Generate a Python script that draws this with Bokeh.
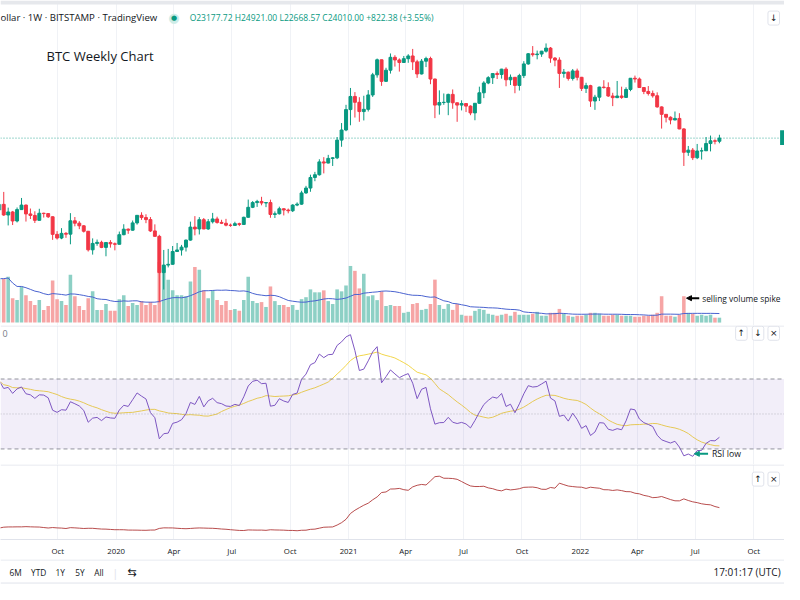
import pandas as pd
from bokeh.plotting import figure
from bokeh.layouts import column
from bokeh.models import (Range1d, LinearScale, FixedTicker, Label, Arrow, NormalHead,
                          ColumnDataSource, Span, BoxAnnotation)
from bokeh.embed import file_html
from bokeh.resources import INLINE

# ---------------- data (weekly BTC/USD, Bitstamp) ----------------
first_week = "2019-07-01"

opens = [10760, 11470, 10190, 10540, 9530, 10820, 11380, 10310, 10140, 9600, 10390, 10350, 9990, 8210, 7880, 8300, 8230, 9550, 9300, 9030, 8500, 6910, 7420, 7510, 7100, 7500, 7390,
         7350, 8180, 8700, 8600, 9330, 10150, 9900, 9680, 8530, 8030, 5360, 5830, 5880, 6780, 6900, 7120, 7700, 8900, 8720, 9670, 8720, 9450, 9750, 9380, 9290, 9100, 9070, 9250, 9170, 9930, 11100, 11700, 11850, 11650, 11700, 10250, 10330, 10920, 10770, 10680, 11380, 11500, 13030, 13760, 15480, 15960, 18420, 18180, 19150, 19270, 23480, 26280,
         33000, 38200, 35800, 32280, 33100, 38850, 48600, 57500, 45200, 51200, 59100, 57400, 55800, 58200, 60000, 56200, 49100, 56600, 58300, 46400, 34700, 35700, 35800, 39100, 35600, 34700, 35300, 34300, 31800, 35400, 39800, 44400, 47100, 49300, 48800, 51800, 46000, 47300, 43200, 48200, 54900, 61500, 60900, 61300, 63300, 65500, 58600, 57300, 49400, 50100, 46700, 50800,
         47300, 41800, 43100, 36300, 37900, 42400, 42200, 38400, 37700, 38400, 37800, 41300, 46800, 46400, 42200, 40400, 39500, 38500, 34000, 31300, 30300, 29400, 29900, 26600, 20500, 21000, 19300, 20800, 20850, 22600, 23300, 23177.72]

highs = [12050, 13180, 11060, 10660, 11080, 12320, 11450, 10950, 10620, 10920, 10450, 10380, 10030, 8510, 8800, 8420, 10400, 9960, 9510, 9100, 8510, 7850, 7750, 7650, 7510, 7700, 7500,
         8470, 9190, 8770, 9580, 10160, 10500, 10270, 9960, 9180, 8170, 6900, 6980, 7210, 7460, 7300, 7750, 9460, 10060, 9950, 9850, 9740, 10430, 10000, 9660, 9760, 9260, 9450, 9350, 10000, 12100, 11900, 12070, 12480, 11720, 12090, 10600, 11180, 10980, 10950, 11490, 11730, 13350, 14100, 15970, 16480, 18970, 19420, 19920, 19410, 24300, 28400, 34800,
         42000, 40100, 37880, 38500, 41000, 49700, 58300, 57600, 52600, 61700, 60500, 58400, 60000, 61200, 64900, 57500, 58000, 59500, 59500, 46600, 40900, 39500, 39400, 41300, 35700, 36600, 35400, 34600, 35500, 42600, 45300, 47900, 49400, 50500, 52000, 52900, 48800, 47400, 49200, 56600, 62000, 67000, 63700, 63500, 69000, 66300, 59300, 59100, 51900, 50400, 51900, 52100,
         47500, 44500, 43500, 38900, 42600, 45800, 44700, 39800, 45400, 42600, 42300, 46900, 48200, 47200, 42400, 42900, 40800, 40000, 34200, 31400, 30600, 32300, 31700, 26800, 22000, 21500, 22500, 21600, 24300, 24700, 23700, 24921.00]

lows = [9620, 10080, 9070, 9110, 9380, 10780, 9470, 9740, 9320, 9590, 9900, 9850, 7720, 7750, 7780, 7900, 7350, 8980, 8700, 8380, 6780, 6550, 7230, 7040, 6430, 7080, 6870,
        7340, 8130, 8260, 8560, 9150, 9650, 9300, 8430, 8000, 3850, 4440, 5680, 5860, 6760, 6480, 6780, 7650, 8120, 8200, 8700, 8630, 9270, 9250, 9210, 8980, 8930, 9050, 9000, 9120, 9900, 11000, 11150, 11350, 11120, 9880, 9850, 10240, 10140, 10380, 10530, 11240, 11420, 12900, 13200, 14850, 15800, 16200, 18110, 17600, 19000, 21800, 25930,
        27700, 30200, 28800, 29240, 32300, 38000, 47100, 43000, 45000, 49300, 53300, 50400, 55500, 55600, 51300, 47000, 48800, 53000, 43800, 30000, 31200, 34800, 31000, 33300, 28800, 32700, 32100, 31000, 29300, 35200, 37500, 43800, 43900, 46400, 46600, 42800, 43400, 39600, 40800, 46900, 54400, 59600, 57800, 59400, 62300, 55600, 53500, 42000, 47100, 45600, 45600, 45700,
        40600, 39700, 34000, 32900, 36300, 41700, 38000, 34300, 37500, 37200, 37600, 40500, 44600, 42100, 39200, 38600, 37700, 33700, 26700, 28600, 28000, 29300, 26500, 17600, 19700, 18800, 19000, 18900, 20800, 20700, 22400, 22668.57]

closes = [11470, 10190, 10540, 9530, 10820, 11380, 10310, 10140, 9600, 10390, 10350, 9990, 8210, 7880, 8300, 8230, 9550, 9300, 9030, 8500, 6910, 7420, 7510, 7100, 7500, 7390, 7350,
          8180, 8700, 8600, 9330, 10150, 9900, 9680, 8530, 8030, 5360, 5830, 5880, 6780, 6900, 7120, 7700, 8900, 8720, 9670, 8720, 9450, 9750, 9380, 9290, 9100, 9070, 9250, 9170, 9930, 11100, 11700, 11850, 11650, 11700, 10250, 10330, 10920, 10770, 10680, 11380, 11500, 13030, 13760, 15480, 15960, 18420, 18180, 19150, 19270, 23480, 26280, 33000,
          38200, 35800, 32280, 33100, 38850, 48600, 57500, 45200, 51200, 59100, 57400, 55800, 58200, 60000, 56200, 49100, 56600, 58300, 46400, 34700, 35700, 35800, 39100, 35600, 34700, 35300, 34300, 31800, 35400, 39800, 44400, 47100, 49300, 48800, 51800, 46000, 47300, 43200, 48200, 54900, 61500, 60900, 61300, 63300, 65500, 58600, 57300, 49400, 50100, 46700, 50800, 47300,
          41800, 43100, 36300, 37900, 42400, 42200, 38400, 37700, 38400, 37800, 41300, 46800, 46400, 42200, 40400, 39500, 38500, 34000, 31300, 30300, 29400, 29900, 26600, 20500, 21000, 19300, 20800, 20850, 22600, 23300, 23187.62, 24010.00]

# weekly volume, thousands of BTC
volumes_k = [135, 135, 141, 75, 69, 111, 84, 66, 54, 69, 39, 51, 129, 72, 66, 54, 147, 81, 51, 39, 75, 96, 39, 39, 57, 36, 36,
             72, 84, 51, 60, 54, 66, 54, 63, 54, 186, 174, 132, 99, 84, 84, 81, 126, 171, 162, 99, 75, 99, 69, 54, 66, 39, 42, 36, 69, 141, 66, 60, 63, 48, 111, 66, 54, 54, 48, 54, 39, 72, 78, 102, 93, 93, 99, 66, 57, 102, 96, 114,
             174, 159, 105, 150, 81, 84, 69, 96, 51, 54, 51, 51, 30, 33, 57, 60, 39, 42, 57, 132, 54, 42, 57, 39, 57, 24, 21, 21, 36, 42, 39, 27, 24, 21, 24, 27, 21, 33, 24, 24, 24, 27, 33, 21, 21, 30, 30, 42, 27, 21, 18, 21,
             21, 24, 30, 30, 27, 21, 21, 24, 24, 21, 21, 21, 18, 18, 21, 21, 24, 30, 81, 21, 21, 18, 24, 81, 30, 27, 21, 24, 21, 24, 15, 15]

# state of the indicators just before the first visible week (history left of the chart)
rsi_prior_avg_gain, rsi_prior_avg_loss = 1050.0, 500.0
atr_prior = 1300.0
rsi_len, ma_len, atr_len, vol_ma_len = 14, 14, 14, 20

tick_dates = ["2019-10-01", "2020-01-01", "2020-04-01", "2020-07-01", "2020-10-01", "2021-01-01",
              "2021-04-01", "2021-07-01", "2021-10-01", "2022-01-01", "2022-04-01", "2022-07-01", "2022-10-01"]
tick_labels = ["Oct", "2020", "Apr", "Jul", "Oct", "2021", "Apr", "Jul", "Oct", "2022", "Apr", "Jul", "Oct"]

last_price = 24010.00
header_left = "ollar · 1W · BITSTAMP · TradingView"
header_ohlc = "O23177.72 H24921.00 L22668.57 C24010.00 +822.38 (+3.55%)"

# ---------------- derived series ----------------
base = pd.Timestamp("2020-01-01")
dates = pd.date_range(first_week, periods=len(closes), freq="7D")
xd = [int((d - base).days) for d in dates]
tick_x = [int((pd.Timestamp(t) - base).days) for t in tick_dates]

UP, DN = "#089981", "#f23645"
UPV, DNV = "#8dd0c5", "#f6a5a5"
GRID = "#f0f2f6"
SEP = "#e0e3eb"
FONT = "Open Sans"
TXT = "#131722"

# Wilder RSI and ATR, continuing from the prior state
rsi, atr = [], []
ag, al, a = rsi_prior_avg_gain, rsi_prior_avg_loss, atr_prior
prev_c = opens[0]
for o, h, l, c in zip(opens, highs, lows, closes):
    d = c - prev_c
    ag = (ag * (rsi_len - 1) + max(d, 0)) / rsi_len
    al = (al * (rsi_len - 1) + max(-d, 0)) / rsi_len
    rsi.append(100 - 100 / (1 + ag / al))
    tr = max(h - l, abs(h - prev_c), abs(l - prev_c))
    a = (a * (atr_len - 1) + tr) / atr_len
    atr.append(a)
    prev_c = c
rsi_ma = pd.Series(rsi).rolling(ma_len, min_periods=1).mean()
vol_ma = pd.Series(volumes_k, dtype=float).rolling(vol_ma_len, min_periods=1).mean()

src = ColumnDataSource(dict(
    x=xd, o=opens, h=highs, l=lows, c=closes,
    top=[max(a, b) for a, b in zip(opens, closes)],
    bot=[min(a, b) for a, b in zip(opens, closes)],
    color=[UP if c >= o else DN for o, c in zip(opens, closes)],
    vcolor=[UPV if c >= o else DNV for o, c in zip(opens, closes)],
    vol=volumes_k, vol_ma=list(vol_ma), rsi=rsi, rsi_ma=list(rsi_ma), atr=atr,
))

W = 784
xr = Range1d(-182.1, 1052.5)


def make_fig(h, yrange, ref_top, ref_bot, ytype="linear", xaxis=False, mbb=0):
    p = figure(width=W, height=h, x_range=xr, y_range=yrange, y_axis_type=ytype,
               output_backend="svg", toolbar_location=None,
               x_axis_location="below" if xaxis else None, y_axis_location=None,
               min_border=0, min_border_bottom=mbb)
    p.extra_x_ranges = {"px": Range1d(0, 800)}
    p.extra_x_scales = {"px": LinearScale()}
    p.extra_y_ranges = {"px": Range1d(ref_bot, ref_top)}
    p.extra_y_scales = {"px": LinearScale()}
    p.outline_line_color = None
    p.background_fill_color = "white"
    p.border_fill_color = "white"
    p.xgrid.ticker = FixedTicker(ticks=tick_x)
    p.xgrid.grid_line_color = GRID
    p.ygrid.grid_line_color = None
    return p


def lab(p, x, y, text, size="10px", color=TXT, align="left", font=FONT, **kw):
    p.add_layout(Label(x=x, y=y, x_range_name="px", y_range_name="px", text=text,
                       text_font=font, text_font_size=size, text_color=color,
                       text_align=align, text_baseline="middle", **kw))


def button(p, x, y, glyph):
    lab(p, x, y, glyph, size="9px", color=TXT, align="center", font="DejaVu Sans",
        background_fill_color="white", border_line_color=SEP, padding=2, border_radius=2)


# ---------------- price pane ----------------
pp = make_fig(325, Range1d(2972, 111360), 0, 333, ytype="log")
pp.extra_y_ranges["vol"] = Range1d(-9, 990)
pp.extra_y_scales["vol"] = LinearScale()
pp.vbar(x="x", width=5.6, top="vol", bottom=0, y_range_name="vol",
        fill_color="vcolor", line_color=None, source=src)
pp.line(x="x", y="vol_ma", y_range_name="vol", line_color="#4a63d0", line_width=1, source=src)
pp.add_layout(Span(location=last_price, dimension="width", line_color=UP,
                   line_dash="1 2", line_alpha=0.8, line_width=1))
pp.segment(x0="x", y0="h", x1="x", y1="l", line_color="color", line_width=1, source=src)
pp.vbar(x="x", width=4.6, top="top", bottom="bot", fill_color="color", line_color="color", source=src)

pp.add_layout(BoxAnnotation(top=0, bottom=4, y_range_name="px", fill_color="#e6e8ec",
                            fill_alpha=1, line_color=None))
pp.add_layout(BoxAnnotation(left=795.5, right=800, top=133, bottom=148, x_range_name="px",
                            y_range_name="px", fill_color=UP, fill_alpha=1, line_color=None))
lab(pp, 0, 17, header_left, size="9.6px")
lab(pp, 177, 17.5, "●", size="13px", color="#cdece7", align="center", font="DejaVu Sans")
lab(pp, 177, 17.5, "●", size="7px", color=UP, align="center", font="DejaVu Sans")
lab(pp, 193, 17, header_ohlc, size="8.5px", color=UP)
button(pp, 789, 18, "↓")
lab(pp, 47, 57, "BTC Weekly Chart", size="13px")
lab(pp, 716, 305, "selling volume spike", size="8.4px")
pp.add_layout(Arrow(x_start=713, y_start=305, x_end=700, y_end=305, x_range_name="px",
                    y_range_name="px", line_color="black", line_width=2,
                    end=NormalHead(size=5, fill_color="black", line_color="black")))

# ---------------- RSI pane ----------------
pr = make_fig(139, Range1d(21.1, 100.6), 333, 476)
pr.add_layout(BoxAnnotation(bottom=30, top=70, fill_color="#7e57c2", fill_alpha=0.1, line_color=None))
for lvl, dash, alpha in [(70, "4 3", 0.8), (30, "4 3", 0.8), (50, "1 2", 0.45)]:
    pr.add_layout(Span(location=lvl, dimension="width", line_color="#787b86",
                       line_dash=dash, line_alpha=alpha, line_width=1))
pr.line(x="x", y="rsi_ma", line_color="#f2d64b", line_width=1, source=src)
pr.line(x="x", y="rsi", line_color="#7e57c2", line_width=1, source=src)
pr.add_layout(Span(location=333.5, dimension="width", y_range_name="px", line_color=SEP))
lab(pr, 2, 341, "0", size="9px", color="#787b86")
button(pr, 756, 341, "↑")
button(pr, 773, 341, "↓")
button(pr, 789, 341, "×")
lab(pr, 726, 465, "RSI low", size="8.7px")
pr.add_layout(Arrow(x_start=722, y_start=465, x_end=708, y_end=465, x_range_name="px",
                    y_range_name="px", line_color=UP, line_width=2,
                    end=NormalHead(size=5, fill_color=UP, line_color=UP)))

# ---------------- ATR pane + time axis ----------------
a_hi, a_lo = max(atr), min(atr[20:])
span = (a_hi - a_lo) * 77 / 56
r0 = a_lo - 9 / 77 * span
pa = make_fig(95, Range1d(r0, r0 + span), 476, 553, xaxis=True, mbb=20)
pa.line(x="x", y="atr", line_color="#b03a3a", line_width=1, line_alpha=0.9, source=src)
pa.add_layout(Span(location=476.5, dimension="width", y_range_name="px", line_color=SEP))
pa.xaxis.ticker = FixedTicker(ticks=tick_x)
pa.xaxis.major_label_overrides = {t: s for t, s in zip(tick_x, tick_labels)}
pa.xaxis.major_tick_line_color = None
pa.xaxis.major_tick_out = 0
pa.xaxis.major_tick_in = 0
pa.xaxis.minor_tick_line_color = None
pa.xaxis.minor_tick_out = 0
pa.xaxis.axis_line_color = SEP
pa.xaxis.major_label_text_font = FONT
pa.xaxis.major_label_text_font_size = "7.8px"
pa.xaxis.major_label_text_color = TXT
pa.xaxis.major_label_standoff = 6
button(pa, 773, 491, "↑")
button(pa, 789, 491, "×")

# ---------------- bottom bar ----------------
pb = make_fig(25, Range1d(0, 1), 574, 600)
pb.xgrid.grid_line_color = None
pb.add_layout(Span(location=574.5, dimension="width", y_range_name="px", line_color=SEP))
pb.add_layout(Span(location=598.5, dimension="width", y_range_name="px", line_color=SEP))
for xx, t in [(15.5, "6M"), (39, "YTD"), (61, "1Y"), (81, "5Y"), (100.5, "All")]:
    lab(pb, xx, 587, t, size="8.3px", align="center")
lab(pb, 117, 587, "|", size="11px", color=SEP, align="center")
lab(pb, 134, 587, "⇆", size="11px", align="center", font="DejaVu Sans")
lab(pb, 796, 587, "17:01:17 (UTC)", size="10px", align="right")

layout = column(pp, pr, pa, pb, spacing=0)
open("out.html", "w").write(file_html(layout, INLINE))
